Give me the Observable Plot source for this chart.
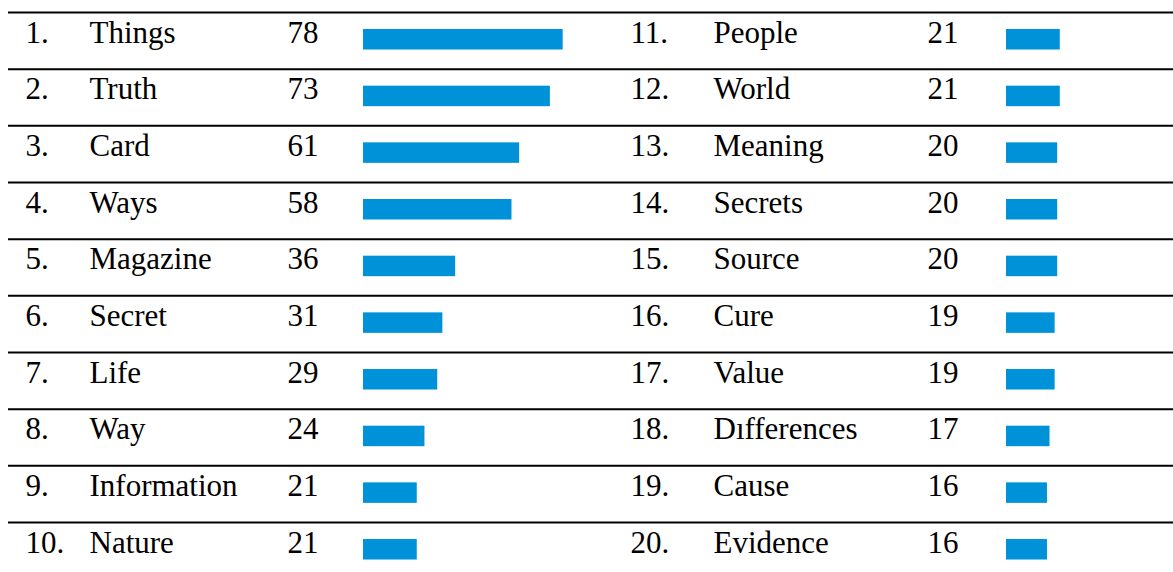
<!DOCTYPE html>
<html>
<head>
<meta charset="utf-8">
<script src="https://cdn.jsdelivr.net/npm/d3@7"></script>
<script src="https://cdn.jsdelivr.net/npm/@observablehq/plot@0.6"></script>
<style>
  html, body { margin: 0; padding: 0; background: #ffffff; }
  #chart svg { display: block; }
</style>
</head>
<body>
<div id="chart"></div>
<script>
// ---- data ----
const ranks = ["1.", "2.", "3.", "4.", "5.", "6.", "7.", "8.", "9.", "10.",
               "11.", "12.", "13.", "14.", "15.", "16.", "17.", "18.", "19.", "20."];
const words = ["Things", "Truth", "Card", "Ways", "Magazine", "Secret", "Life", "Way", "Information", "Nature",
               "People", "World", "Meaning", "Secrets", "Source", "Cure", "Value", "Dıfferences", "Cause", "Evidence"];
const counts = [78, 73, 61, 58, 36, 31, 29, 24, 21, 21,
                21, 21, 20, 20, 20, 19, 19, 17, 16, 16];

// ---- layout (styling, not data) ----
const W = 1173, H = 572;
const rowH = 56.67, topY = 12;
const unit = 2.56; // px per count
const cols = [
  {rank: 25, word: 89, count: 287, bar: 363},
  {rank: 630, word: 713, count: 927, bar: 1006}
];

const table = words.map((w, i) => ({
  rank: ranks[i], word: w, count: counts[i],
  col: Math.floor(i / 10), row: i % 10
}));
const rows = d3.range(10);

const font = "'Liberation Serif', 'Times New Roman', serif";
const textOpts = {fontSize: 31, fill: "black", textAnchor: "start", lineAnchor: "bottom", dy: 30, fontFamily: font};

const chart = Plot.plot({
  width: W, height: H,
  margin: 0,
  x: {type: "linear", domain: [0, W], range: [0, W], axis: null},
  y: {type: "linear", domain: [0, 10], range: [topY, topY + rowH * 10], axis: null},
  style: {background: "white", fontFamily: font},
  marks: [
    Plot.ruleY(rows, {y: d => d, x1: () => 8, x2: () => W, stroke: "black", strokeWidth: 2}),
    Plot.rect(table, {
      x1: d => cols[d.col].bar,
      x2: d => cols[d.col].bar + d.count * unit,
      y1: d => d.row + 17 / rowH,
      y2: d => d.row + 37.5 / rowH,
      fill: "#0092d8"
    }),
    Plot.text(table, {x: d => cols[d.col].rank, y: "row", text: "rank", ...textOpts}),
    Plot.text(table, {x: d => cols[d.col].word, y: "row", text: "word", ...textOpts}),
    Plot.text(table, {x: d => cols[d.col].count, y: "row", text: d => String(d.count), ...textOpts})
  ]
});
document.getElementById("chart").append(chart);
</script>
</body>
</html>
